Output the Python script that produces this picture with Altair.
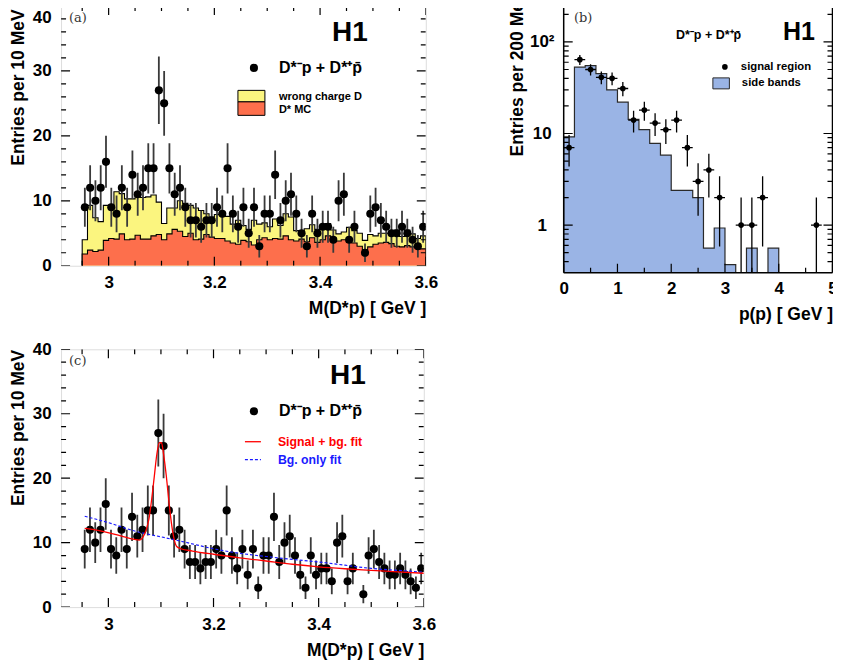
import altair as alt
import pandas as pd

FONT = "Liberation Sans"
SERIF = "DejaVu Serif"

# ---------------- data ----------------
# panels (a) and (c): M(D*p), 10 MeV bins starting at 2.95 GeV
M_LO, M_W = 2.95, 0.01
m_counts = [9, 12, 10, 12, 16, 9, 8, 12, 9, 14,
            11, 12, 15, 15, 27, 25, 15, 11, 12, 9,
            7, 7, 6, 7, 7, 9, 8, 15, 8, 6,
            9, 5, 9, 3, 8, 8, 14, 7, 10, 11,
            8, 5, 3, 8, 5, 6, 6, 4, 10, 11,
            4, 6, None, 2, 8, 9, 7, 6, 5, 5,
            6, 5, 4, 3, 6]
wrong_charge = [4.0, 9.3, 7.4, 6.8, 9.3, 8.9, 11.4, 11.1, 10.3, 10.3,
                11.1, 10.5, 10.6, 10.9, 9.8, 6.5, 8.9, 8.9, 10.0, 9.6,
                9.3, 8.9, 8.5, 8.0, 7.5, 7.9, 8.0, 7.6, 6.4, 7.0,
                6.2, 5.6, 7.0, 6.4, 6.6, 6.0, 7.2, 6.2, 8.0, 7.5,
                5.4, 4.8, 5.7, 6.3, 5.6, 5.7, 6.5, 5.5, 4.9, 5.2,
                5.9, 5.4, 5.0, 3.9, 4.8, 4.6, 5.0, 5.0, 4.8, 5.5,
                4.5, 5.5, 4.9, 4.2, 4.6]
dstar_mc = [1.8, 2.4, 2.2, 2.4, 3.9, 4.2, 4.1, 4.9, 4.0, 4.1,
            4.7, 4.1, 4.1, 4.6, 4.8, 4.0, 4.9, 5.6, 5.3, 4.5,
            5.0, 4.0, 4.1, 4.8, 4.4, 4.2, 4.2, 3.8, 3.5, 3.3,
            3.9, 3.7, 3.2, 4.0, 4.3, 4.0, 4.2, 4.1, 4.6, 4.0,
            3.8, 4.1, 3.7, 4.3, 3.6, 4.0, 4.6, 4.3, 3.8, 4.0,
            3.6, 3.5, 3.0, 2.5, 2.9, 3.3, 3.5, 3.6, 3.4, 3.0,
            2.9, 3.1, 2.9, 2.7, 2.6]

# panel (c): fit curves
sig_fit_x = [2.955, 2.98, 3.005, 3.03, 3.05, 3.059, 3.066, 3.072, 3.077, 3.082,
             3.087, 3.092, 3.097, 3.101, 3.105, 3.110, 3.115, 3.120, 3.125, 3.130,
             3.138, 3.16, 3.20, 3.25, 3.30, 3.35, 3.40, 3.45, 3.50, 3.55, 3.60]
sig_fit_y = [12.2, 11.9, 11.45, 10.9, 10.5, 10.4, 10.9, 12.0, 13.6, 16.5,
             20.0, 23.6, 25.5, 25.5, 23.7, 20.5, 16.5, 13.0, 10.6, 9.4,
             9.05, 8.7, 8.2, 7.65, 7.15, 6.65, 6.25, 5.95, 5.7, 5.45, 5.25]
bg_fit_x = [2.955, 3.0, 3.05, 3.10, 3.15, 3.20, 3.25, 3.30, 3.35, 3.40, 3.45, 3.50, 3.55, 3.60]
bg_fit_y = [14.1, 13.1, 11.8, 10.9, 10.0, 9.05, 8.35, 7.85, 7.4, 7.0, 6.5, 6.0, 5.7, 5.4]

# panel (b): proton momentum, 200 MeV bins from 0
P_LO, P_W = 0.0, 0.2
p_signal = [7, 64, 50, 41, 40, 31, 14, 18, 13, 11, 14, 7, 3, 4, 2,
            0, 1, 1, 2, 0, 0, 0, 0, 1, 0]
p_side = [9.2, 53, 55, 45, 30, 22, 14.3, 11, 7.8, 5.8, 2.4, 2.4, 2.0, 0.56, 0.93,
          0.37, 0, 0.56, 0, 0.56, 0, 0, 0, 0, 0]

# axis ticks
m_major = [3.0, 3.2, 3.4, 3.6]
m_minor = [2.95, 3.05, 3.1, 3.15, 3.25, 3.3, 3.35, 3.45, 3.5, 3.55]
n_major = [0, 10, 20, 30, 40]
n_minor = [2, 4, 6, 8, 12, 14, 16, 18, 22, 24, 26, 28, 32, 34, 36, 38]
p_major = [0, 1, 2, 3, 4, 5]
p_minor = [0.5, 1.5, 2.5, 3.5, 4.5]
e_major = [1, 10, 100]
e_minor = [0.4, 0.5, 0.6, 0.7, 0.8, 0.9, 2, 3, 4, 5, 6, 7, 8, 9,
           20, 30, 40, 50, 60, 70, 80, 90, 200]

LEG_TEXT = "D*\u207Bp + D*\u207Ap\u0304"

# ---------------- helpers ----------------
ONE = pd.DataFrame({"k": [0]})


def step_frame(lo, w, vals, floor):
    edges = [round(lo + w * i, 4) for i in range(len(vals) + 1)]
    xs = [edges[0]] + edges + [edges[-1]]
    ys = [floor] + [v if v > 0 else floor for v in vals] + [vals[-1] if vals[-1] > 0 else floor, floor]
    return pd.DataFrame({"x": xs, "y": ys, "o": list(range(len(xs)))})


def area_frame(lo, w, vals, floor):
    edges = [round(lo + w * i, 4) for i in range(len(vals) + 1)]
    ys = [v if v > 0 else floor for v in vals]
    return pd.DataFrame({"x": edges, "y": ys + [ys[-1]]})


def ticks(vals, length, W, H, xs, ys, xax, yax, axis_ch, sides):
    df = pd.DataFrame({"v": vals})
    out = []
    for s in sides:
        if axis_ch == "y":
            enc = dict(y=alt.Y("v:Q", scale=ys, axis=yax))
            if s == "left":
                enc.update(x=alt.value(0), x2=alt.value(length))
            else:
                enc.update(x=alt.value(W - length), x2=alt.value(W))
        else:
            enc = dict(x=alt.X("v:Q", scale=xs, axis=xax))
            if s == "bottom":
                enc.update(y=alt.value(H), y2=alt.value(H - length))
            else:
                enc.update(y=alt.value(0), y2=alt.value(length))
        out.append(alt.Chart(df).mark_rule(color="black", strokeWidth=1.2, clip=True).encode(**enc))
    return out


def text(s, x, y, size, color="black", weight="bold", font=FONT, align="left", baseline="middle"):
    return alt.Chart(ONE).mark_text(
        text=s, font=font, fontSize=size, fontWeight=weight, color=color,
        align=align, baseline=baseline).encode(x=alt.value(x), y=alt.value(y))


AX_COMMON = dict(labelFont=FONT, labelFontSize=17, labelFontWeight="bold", labelColor="black",
                 titleFont=FONT, titleFontSize=17.5, titleFontWeight="bold", titleColor="black",
                 ticks=False, domain=False, grid=False)


def mass_panel(W, H, tag, fits, top_label_shift, title_y):
    xs = alt.Scale(domain=[2.91, 3.6], nice=False, zero=False)
    ys = alt.Scale(domain=[0, 40], nice=False, zero=False)
    xax = alt.Axis(values=m_major, format="~g", labelPadding=9, labelFlush=False,
                   title="M(D*p) [ GeV ]", titleAnchor="end", titlePadding=9, **AX_COMMON)
    yax = alt.Axis(values=n_major, labelPadding=10, labelFlush=False,
                   labelOffset={"condition": {"test": "datum.value == 40", "value": top_label_shift},
                                "value": 0},
                   title="Entries per 10 MeV", titleAnchor="end", titlePadding=4.5,
                   titleY=title_y, **AX_COMMON)
    n = len(m_counts)
    centers = [round(M_LO + M_W * (i + 0.5), 4) for i in range(n)]
    pts = pd.DataFrame({"m": centers, "n": m_counts}).dropna()
    pts["lo"] = pts["n"] - pts["n"] ** 0.5
    pts["hi"] = pts["n"] + pts["n"] ** 0.5

    def X(f):
        return alt.X(f, scale=xs, axis=xax)

    def Y(f):
        return alt.Y(f, scale=ys, axis=yax)

    layers = []
    if not fits:
        for vals, col in ((wrong_charge, "#fbf57f"), (dstar_mc, "#fd6f4c")):
            layers.append(alt.Chart(area_frame(M_LO, M_W, vals, 0)).mark_area(
                interpolate="step-after", color=col, opacity=1, clip=True).encode(
                x=X("x:Q"), y=Y("y:Q"), y2=alt.datum(0)))
            layers.append(alt.Chart(step_frame(M_LO, M_W, vals, 0)).mark_line(
                interpolate="step-after", color="black", strokeWidth=1.1, clip=True).encode(
                x=X("x:Q"), y=Y("y:Q"), order="o:Q"))
    layers.append(alt.Chart(pts).mark_rule(color="#3a3a3a", strokeWidth=1.8, clip=True).encode(
        x=X("m:Q"), y=Y("lo:Q"), y2="hi:Q"))
    layers.append(alt.Chart(pts).mark_circle(color="black", opacity=1, size=66, clip=True).encode(
        x=X("m:Q"), y=Y("n:Q")))
    if fits:
        bg = pd.DataFrame({"x": bg_fit_x, "y": bg_fit_y})
        sg = pd.DataFrame({"x": sig_fit_x, "y": sig_fit_y})
        layers.append(alt.Chart(bg).mark_line(color="#1a1aff", strokeWidth=1.2, strokeDash=[3, 2],
                                              interpolate="monotone", clip=True).encode(
            x=X("x:Q"), y=Y("y:Q")))
        layers.append(alt.Chart(sg).mark_line(color="#ff0000", strokeWidth=1.3,
                                              interpolate="monotone", clip=True).encode(
            x=X("x:Q"), y=Y("y:Q")))
    # annotations
    layers.append(text(tag, 8, 12, 13, color="#333333", weight="normal", font=SERIF))
    layers.append(text("H1", W - 58, 27, 28, align="right"))
    layers.append(alt.Chart(ONE).mark_circle(color="black", opacity=1, size=66).encode(
        x=alt.value(193), y=alt.value(62)))
    layers.append(text(LEG_TEXT, 218, 62, 16))
    if not fits:
        layers.append(alt.Chart(ONE).mark_rect(color="#fbf57f", stroke="black", strokeWidth=1).encode(
            x=alt.value(177), x2=alt.value(204), y=alt.value(84.5), y2=alt.value(96)))
        layers.append(alt.Chart(ONE).mark_rect(color="#fd6f4c", stroke="black", strokeWidth=1).encode(
            x=alt.value(177), x2=alt.value(204), y=alt.value(96), y2=alt.value(109.5)))
        layers.append(text("wrong charge D", 218, 91, 11))
        layers.append(text("D* MC", 218, 104, 11))
    else:
        layers.append(alt.Chart(ONE).mark_rule(color="#ff0000", strokeWidth=1.3).encode(
            x=alt.value(184), x2=alt.value(200), y=alt.value(92.5)))
        layers.append(alt.Chart(ONE).mark_rule(color="#1a1aff", strokeWidth=1.2, strokeDash=[3, 2]).encode(
            x=alt.value(184), x2=alt.value(200), y=alt.value(110.5)))
        layers.append(text("Signal + bg. fit", 217, 92.5, 12.3, color="#ff0000"))
        layers.append(text("Bg. only fit", 217, 110.5, 12.3, color="#1a1aff"))
    # ticks
    layers += ticks(n_major, 9, W, H, xs, ys, xax, yax, "y", ["left", "right"])
    layers += ticks(n_minor, 5, W, H, xs, ys, xax, yax, "y", ["left", "right"])
    layers += ticks(m_major, 9, W, H, xs, ys, xax, yax, "x", ["bottom", "top"])
    layers += ticks(m_minor, 5, W, H, xs, ys, xax, yax, "x", ["bottom", "top"])
    return alt.layer(*layers).properties(width=W, height=H)


def momentum_panel(W, H, pmax, dx):
    xs = alt.Scale(domain=[0, pmax], nice=False, zero=False)
    ys = alt.Scale(type="log", domain=[0.302, 247], nice=False)
    xax = alt.Axis(values=p_major, labelPadding=8, labelFlush=False, title="p(p) [ GeV ]",
                   titleAnchor="end", titlePadding=9, **AX_COMMON)
    yax = alt.Axis(values=e_major, labelPadding=22, labelAlign="center", labelFlush=False,
                   title="Entries per 200 MeV",
                   labelExpr="datum.value >= 100 ? '10\u00b2' : (datum.value >= 10 ? '10' : '1')",
                   titleAnchor="end", titlePadding=3, titleY=-16, **AX_COMMON)
    FLOOR = 0.1
    n = len(p_signal)
    centers = [round(P_LO + P_W * (i + 0.5), 4) for i in range(n)]
    pts = pd.DataFrame({"p": centers, "n": p_signal})
    pts = pts[pts["n"] > 0].copy()
    pts["lo"] = (pts["n"] - pts["n"] ** 0.5).clip(lower=FLOOR)
    pts["hi"] = pts["n"] + pts["n"] ** 0.5
    pts["xl"] = pts["p"] - P_W / 2
    pts["xh"] = pts["p"] + P_W / 2

    def X(f):
        return alt.X(f, scale=xs, axis=xax)

    def Y(f):
        return alt.Y(f, scale=ys, axis=yax)

    layers = [
        alt.Chart(area_frame(P_LO, P_W, p_side, FLOOR)).mark_area(
            interpolate="step-after", color="#9ab4e5", opacity=1, clip=True).encode(
            x=X("x:Q"), y=Y("y:Q"), y2=alt.datum(FLOOR)),
        alt.Chart(step_frame(P_LO, P_W, p_side, FLOOR)).mark_line(
            interpolate="step-after", color="#2a2a2a", strokeWidth=1.2, clip=True).encode(
            x=X("x:Q"), y=Y("y:Q"), order="o:Q"),
        alt.Chart(pts).mark_rule(color="black", strokeWidth=1.3, clip=True).encode(
            x=X("p:Q"), y=Y("lo:Q"), y2="hi:Q"),
        alt.Chart(pts).mark_rule(color="black", strokeWidth=1.3, clip=True).encode(
            x=X("xl:Q"), x2="xh:Q", y=Y("n:Q")),
        alt.Chart(pts).mark_circle(color="black", opacity=1, size=32, clip=True).encode(
            x=X("p:Q"), y=Y("n:Q")),
        text("(b)", 9 + dx, 12, 13, color="#333333", weight="normal", font=SERIF),
        text(LEG_TEXT, 111 + dx, 29, 12.5),
        text("H1", 250 + dx, 26, 25, align="right"),
        alt.Chart(ONE).mark_circle(color="black", opacity=1, size=32).encode(
            x=alt.value(160 + dx), y=alt.value(61)),
        text("signal region", 176 + dx, 61, 11.3),
        alt.Chart(ONE).mark_rect(color="#9ab4e5", stroke="#2a2a2a", strokeWidth=1).encode(
            x=alt.value(148 + dx), x2=alt.value(164.5 + dx), y=alt.value(72), y2=alt.value(83)),
        text("side bands", 177 + dx, 77.5, 11.3),
        # frame without top edge (cut off in the original)
        alt.Chart(ONE).mark_rule(color="black", strokeWidth=1.5).encode(
            x=alt.value(0), y=alt.value(0), y2=alt.value(H)),
        alt.Chart(ONE).mark_rule(color="black", strokeWidth=1.5).encode(
            x=alt.value(W), y=alt.value(0), y2=alt.value(H)),
        alt.Chart(ONE).mark_rule(color="black", strokeWidth=1.5).encode(
            x=alt.value(0), x2=alt.value(W), y=alt.value(H)),
    ]
    layers += ticks(e_major, 9, W, H, xs, ys, xax, yax, "y", ["left", "right"])
    layers += ticks(e_minor, 5, W, H, xs, ys, xax, yax, "y", ["left", "right"])
    layers += ticks(p_major, 9, W, H, xs, ys, xax, yax, "x", ["bottom"])
    layers += ticks(p_minor, 5, W, H, xs, ys, xax, yax, "x", ["bottom"])
    return alt.layer(*layers).properties(width=W, height=H, view=alt.ViewConfig(stroke=None))


pa = mass_panel(365, 260, "(a)", fits=False, top_label_shift=12, title_y=3)
pb = momentum_panel(269, 267, 5.0, 1.3)
pc = mass_panel(363, 258, "(c)", fits=True, top_label_shift=0, title_y=0)

chart = alt.concat(pa, pb, pc, columns=2, spacing={"row": 76.6, "column": 138},
                   bounds="flush").properties(
    padding={"left": 1.1, "top": -18.3, "right": -4.5, "bottom": 0}
).configure_view(stroke="black", strokeWidth=1.5).configure(background="white")

chart.save("out.html", embed_options={"renderer": "svg", "actions": False})
